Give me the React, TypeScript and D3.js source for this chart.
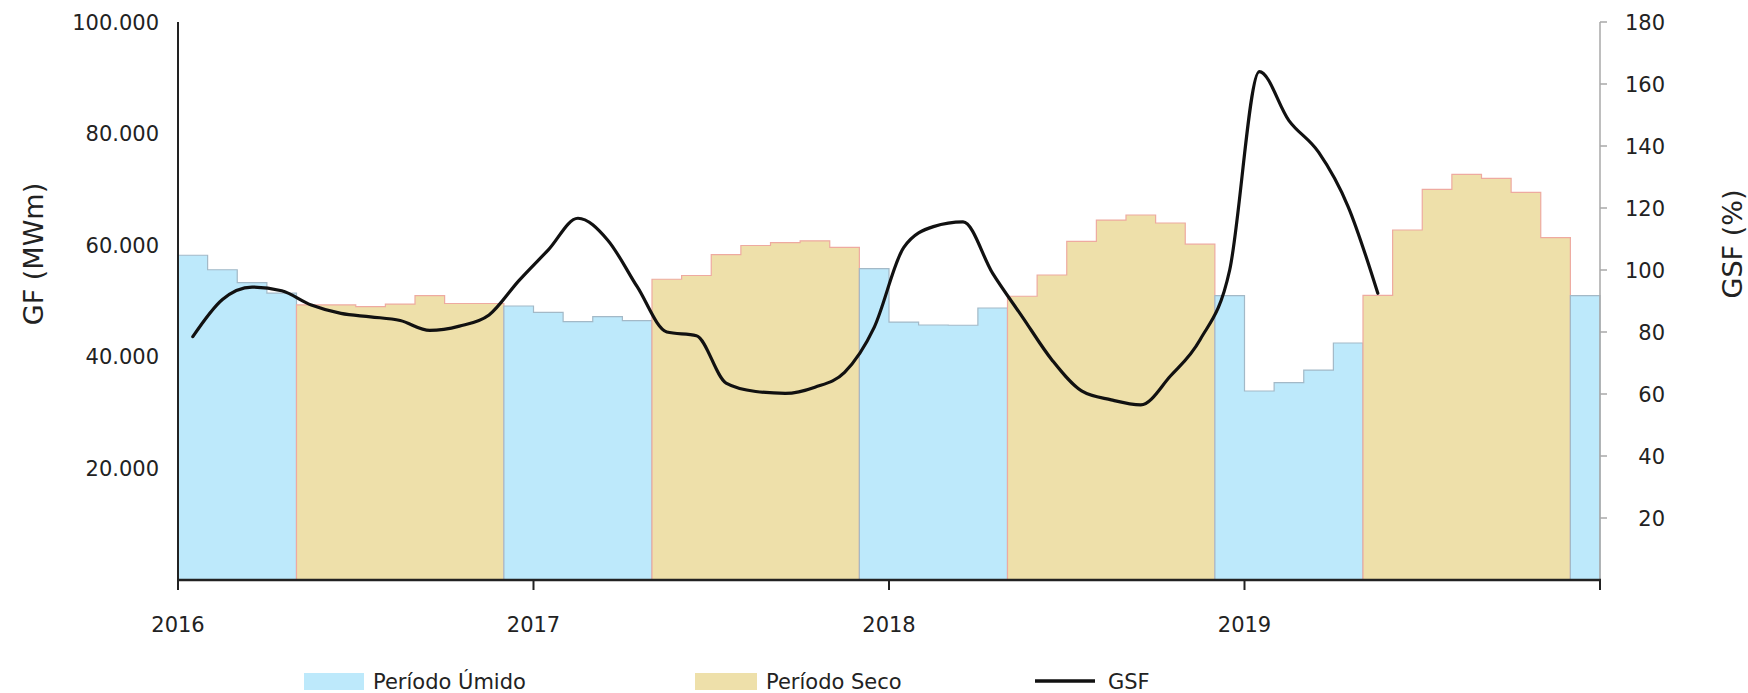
import React from "react";
import * as d3 from "d3";

// ---- data ----
const yearLabels = ["2016", "2017", "2018", "2019"];
const monthNames = ["jan", "fev", "mar", "abr", "mai", "jun", "jul", "ago", "set", "out", "nov", "dez"];
const wetMonthIdx = [11, 0, 1, 2, 3]; // dez–abr = Período Úmido; mai–nov = Período Seco

// Garantia física mensal (MWm), jan/2016 – dez/2019
const gf2016 = [58200, 55600, 53300, 51400, 49300, 49300, 49000, 49450, 50950, 49550, 49550, 49100];
const gf2017 = [47950, 46300, 47200, 46500, 53900, 54570, 58300, 59950, 60450, 60780, 59620, 55800];
const gf2018 = [46230, 45700, 45650, 48750, 50850, 54660, 60700, 64500, 65410, 63980, 60190, 50950];
const gf2019 = [33870, 35360, 37630, 42470, 51000, 62720, 70010, 72700, 71980, 69480, 61350, 50950];

// GSF (%) mensal, jan/2016 – mai/2019
const gsf2016 = [78.5, 90.5, 94.5, 93.3, 88.7, 86.0, 84.9, 83.7, 80.5, 81.9, 85.5, 96.5];
const gsf2017 = [106.5, 116.7, 109.7, 94.6, 80.0, 78.8, 63.5, 60.8, 60.2, 62.2, 67.0, 81.5];
const gsf2018 = [107.3, 114.0, 115.5, 98.9, 84.9, 71.0, 61.0, 58.1, 56.5, 65.8, 77.5, 100.0];
const gsf2019 = [164.0, 148.2, 138.0, 120.4, 92.5];

const gfTicks = [20000, 40000, 60000, 80000, 100000];
const gsfTicks = [20, 40, 60, 80, 100, 120, 140, 160, 180];

const legendLabels = ["Período Úmido", "Período Seco", "GSF"];

// ---- derived ----
const gfValues = [...gf2016, ...gf2017, ...gf2018, ...gf2019];
const gsfValues = [...gsf2016, ...gsf2017, ...gsf2018, ...gsf2019];
const months = gfValues.map((v, i) => ({
  i,
  label: `${monthNames[i % 12]}/${yearLabels[Math.floor(i / 12)]}`,
  v,
  wet: wetMonthIdx.includes(i % 12),
}));

const FONT = "'Century Gothic', 'DejaVu Sans', sans-serif";
const WET_FILL = "#bde9fb";
const WET_STROKE = "#a3b9c7";
const DRY_FILL = "#eee0aa";
const DRY_STROKE = "#eeaaa0";

const fmtLocale = d3.formatLocale({ decimal: ",", thousands: ".", grouping: [3], currency: ["", ""] });
const fmtGF = fmtLocale.format(",.0f");

export default function App() {
  const W = 1748;
  const H = 693;
  const left = 178, right = 1600, top = 22, bottom = 580;

  const x = d3.scaleLinear().domain([0, months.length]).range([left, right]);
  const yL = d3.scaleLinear().domain([0, 100000]).range([bottom, top]);
  const yR = d3.scaleLinear().domain([0, 180]).range([bottom, top]);

  // group consecutive months into periods
  const runs: { wet: boolean; pts: [number, number][] }[] = [];
  months.forEach((m) => {
    const last = runs[runs.length - 1];
    if (last && last.wet === m.wet) last.pts.push([m.i, m.v]);
    else runs.push({ wet: m.wet, pts: [[m.i, m.v]] });
  });
  runs.forEach((r) => {
    const lp = r.pts[r.pts.length - 1];
    r.pts.push([lp[0] + 1, lp[1]]);
  });

  const area = d3
    .area<[number, number]>()
    .x((d) => x(d[0]))
    .y0(yL(0))
    .y1((d) => yL(d[1]))
    .curve(d3.curveStepAfter);

  const line = d3
    .line<number>()
    .x((_, i) => x(i + 0.5))
    .y((d) => yR(d))
    .curve(d3.curveMonotoneX);

  const yearTicks = [0, 12, 24, 36, 48];

  return (
    <svg
      width={W}
      height={H}
      style={{ position: "absolute", left: 0, top: 0, display: "block", background: "#fff" }}
      fontFamily={FONT}
    >
      {/* period areas */}
      {runs.map((r, k) => (
        <path
          key={k}
          d={area(r.pts) || ""}
          fill={r.wet ? WET_FILL : DRY_FILL}
          stroke={r.wet ? WET_STROKE : DRY_STROKE}
          strokeWidth={1.2}
        />
      ))}

      {/* left axis */}
      <line x1={left} x2={left} y1={top} y2={bottom} stroke="#222" strokeWidth={2} />
      {gfTicks.map((t) => (
        <text key={t} x={159} y={yL(t)} dy="0.36em" textAnchor="end" fontSize={21} fill="#222">
          {fmtGF(t)}
        </text>
      ))}
      <text
        transform={`translate(33,254) rotate(-90)`}
        textAnchor="middle"
        dy="0.36em"
        fontSize={27}
        fill="#222"
      >
        GF (MWm)
      </text>

      {/* right axis */}
      <line x1={right} x2={right} y1={top} y2={bottom} stroke="#a8a8a8" strokeWidth={1.5} />
      {gsfTicks.map((t) => (
        <g key={t}>
          <line x1={right} x2={right + 7} y1={yR(t)} y2={yR(t)} stroke="#a8a8a8" strokeWidth={1.5} />
          <text x={1665} y={yR(t)} dy="0.36em" textAnchor="end" fontSize={21} fill="#222">
            {t}
          </text>
        </g>
      ))}
      <text
        transform={`translate(1732,244) rotate(-90)`}
        textAnchor="middle"
        dy="0.36em"
        fontSize={27}
        fill="#222"
      >
        GSF (%)
      </text>

      {/* bottom axis */}
      <line x1={left - 1} x2={right + 1} y1={bottom} y2={bottom} stroke="#222" strokeWidth={2.5} />
      {yearTicks.map((t) => (
        <line key={t} x1={x(t)} x2={x(t)} y1={bottom} y2={bottom + 10} stroke="#222" strokeWidth={2} />
      ))}
      {yearLabels.map((lab, k) => (
        <text key={lab} x={x(k * 12)} y={632} textAnchor="middle" fontSize={21} fill="#222">
          {lab}
        </text>
      ))}

      {/* GSF line */}
      <path d={line(gsfValues) || ""} fill="none" stroke="#111" strokeWidth={3.2} strokeLinejoin="round" strokeLinecap="round" />

      {/* legend */}
      <rect x={304} y={673} width={60} height={17} fill={WET_FILL} />
      <text x={373} y={689} fontSize={21} fill="#222">
        {legendLabels[0]}
      </text>
      <rect x={695} y={673} width={62} height={17} fill={DRY_FILL} />
      <text x={766} y={689} fontSize={21} fill="#222">
        {legendLabels[1]}
      </text>
      <line x1={1035} x2={1095} y1={681} y2={681} stroke="#111" strokeWidth={3.5} />
      <text x={1108} y={689} fontSize={21} fill="#222">
        {legendLabels[2]}
      </text>
    </svg>
  );
}
